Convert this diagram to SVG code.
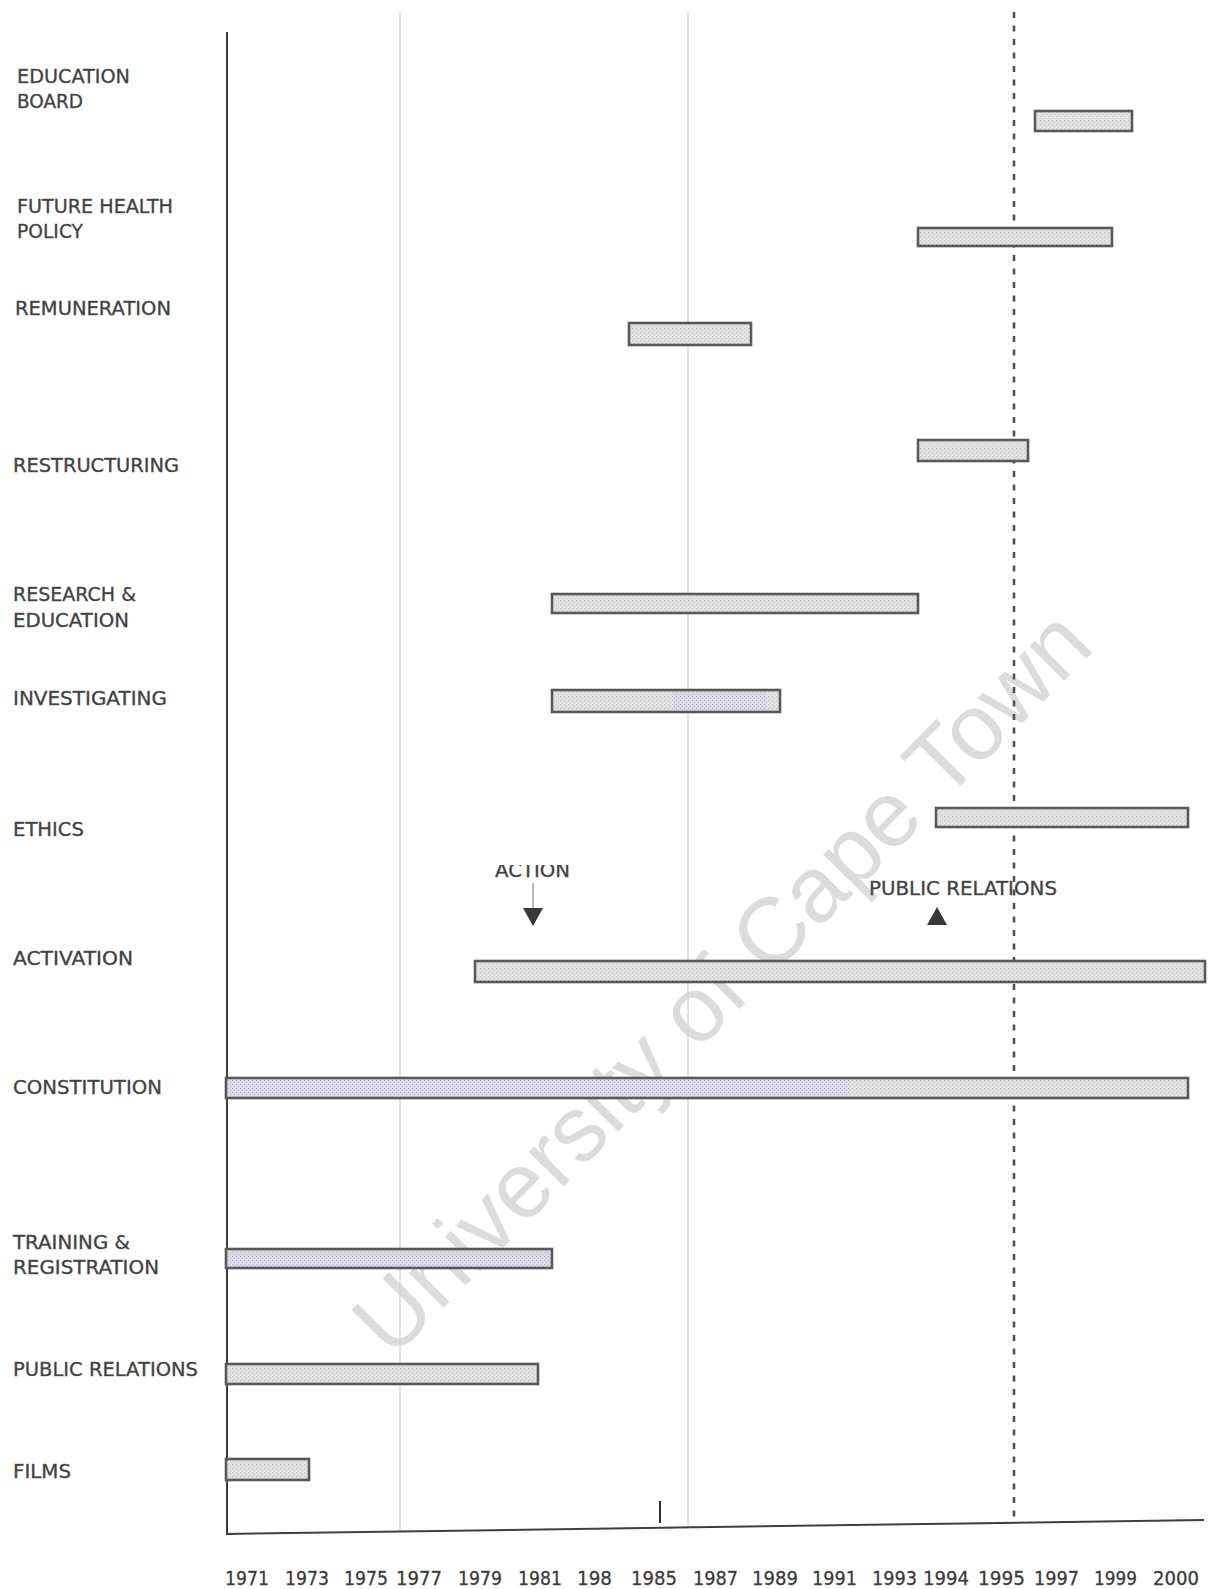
<svg xmlns="http://www.w3.org/2000/svg" width="1208" height="1589" viewBox="0 0 1208 1589">
  <defs>
    <pattern id="grey" width="4" height="4" patternUnits="userSpaceOnUse">
      <rect width="4" height="4" fill="#e2e2e2"/>
      <rect x="0" y="0" width="1" height="1" fill="#c0c0c0"/>
      <rect x="2" y="2" width="1" height="1" fill="#c6c6c6"/>
    </pattern>
    <pattern id="blue" width="4" height="4" patternUnits="userSpaceOnUse">
      <rect width="4" height="4" fill="#dadae8"/>
      <rect x="0" y="0" width="1" height="1" fill="#b0b0c6"/>
      <rect x="2" y="2" width="1" height="1" fill="#b8b8cc"/>
    </pattern>
    <clipPath id="cutTop">
      <rect x="480" y="865" width="110" height="20"/>
    </clipPath>
  </defs>
  <style>
    .lbl { font-family: "DejaVu Sans", "Liberation Sans", sans-serif; font-size: 19px; fill: #404040; stroke: #505050; stroke-width: 0.35; }
    .yr { font-family: "DejaVu Sans", "Liberation Sans", sans-serif; font-size: 19px; fill: #383838; stroke: #484848; stroke-width: 0.3; }
    .bar { fill: url(#grey); stroke: #595959; stroke-width: 2.6; }
    .grid { stroke: #d2d2d2; stroke-width: 1.2; fill: none; }
    .axis { stroke: #3e3e3e; stroke-width: 2; fill: none; }
    .mark { fill: #383838; }
  </style>

  <rect width="1208" height="1589" fill="#ffffff"/>

  <!-- watermark -->
  <text transform="translate(392,1360) rotate(-45.3)" font-family="Liberation Sans, Arial, sans-serif" font-size="93" fill="#dcdcdc">University of Cape Town</text>

  <!-- reference lines and axes -->
  <g id="connectors">
    <line class="grid" x1="400" y1="12" x2="400" y2="1530"/>
    <line class="grid" x1="688" y1="12" x2="688" y2="1528" stroke="#c4c4c4"/>
    <line x1="1014" y1="12" x2="1014" y2="1522" stroke="#505050" stroke-width="2.6" stroke-dasharray="6 7.5"/>
    <line class="axis" x1="227" y1="32" x2="227" y2="1534"/>
    <line class="axis" x1="226" y1="1534" x2="1204" y2="1520"/>
    <line x1="660" y1="1501" x2="660" y2="1523" stroke="#333" stroke-width="2"/>
    <!-- event markers -->
    <line x1="533" y1="883" x2="533" y2="908" stroke="#8a8a8a" stroke-width="1.2"/>
    <polygon class="mark" points="523,908 543,908 533,926"/>
    <polygon class="mark" points="927,925 947,925 937,907"/>
  </g>

  <!-- rows: label + period bar -->
  <g id="node-education-board">
    <text class="lbl" x="17" y="83" textLength="113" lengthAdjust="spacingAndGlyphs">EDUCATION</text>
    <text class="lbl" x="17" y="108" textLength="66" lengthAdjust="spacingAndGlyphs">BOARD</text>
    <rect class="bar" x="1035" y="111" width="97" height="20"/>
  </g>
  <g id="node-future-health">
    <text class="lbl" x="17" y="213" textLength="156" lengthAdjust="spacingAndGlyphs">FUTURE HEALTH</text>
    <text class="lbl" x="17" y="238" textLength="66" lengthAdjust="spacingAndGlyphs">POLICY</text>
    <rect class="bar" x="918" y="228" width="194" height="18"/>
  </g>
  <g id="node-remuneration">
    <text class="lbl" x="15" y="315" textLength="156" lengthAdjust="spacingAndGlyphs">REMUNERATION</text>
    <rect class="bar" x="629" y="323" width="122" height="22"/>
  </g>
  <g id="node-restructuring">
    <text class="lbl" x="13" y="472" textLength="166" lengthAdjust="spacingAndGlyphs">RESTRUCTURING</text>
    <rect class="bar" x="918" y="440" width="110" height="21"/>
  </g>
  <g id="node-research-education">
    <text class="lbl" x="13" y="601" textLength="123" lengthAdjust="spacingAndGlyphs">RESEARCH &amp;</text>
    <text class="lbl" x="13" y="627" textLength="116" lengthAdjust="spacingAndGlyphs">EDUCATION</text>
    <rect class="bar" x="552" y="594" width="366" height="19"/>
  </g>
  <g id="node-investigating">
    <text class="lbl" x="13" y="705" textLength="154" lengthAdjust="spacingAndGlyphs">INVESTIGATING</text>
    <rect class="bar" x="552" y="690" width="228" height="22"/>
    <rect x="673" y="692" width="93" height="18" fill="url(#blue)"/>
  </g>
  <g id="node-ethics">
    <text class="lbl" x="13" y="836" textLength="71" lengthAdjust="spacingAndGlyphs">ETHICS</text>
    <rect class="bar" x="936" y="808" width="252" height="19"/>
  </g>
  <g id="node-activation">
    <text class="lbl" x="13" y="965" textLength="120" lengthAdjust="spacingAndGlyphs">ACTIVATION</text>
    <rect class="bar" x="475" y="961" width="730" height="21"/>
    <text class="lbl" x="495" y="877" textLength="75" lengthAdjust="spacingAndGlyphs" clip-path="url(#cutTop)">ACTION</text>
    <text class="lbl" x="869" y="895" textLength="188" lengthAdjust="spacingAndGlyphs">PUBLIC RELATIONS</text>
  </g>
  <g id="node-constitution">
    <text class="lbl" x="13" y="1094" textLength="149" lengthAdjust="spacingAndGlyphs">CONSTITUTION</text>
    <rect class="bar" x="226" y="1078" width="962" height="20"/>
    <rect x="228" y="1080" width="622" height="16" fill="url(#blue)"/>
  </g>
  <g id="node-training-registration">
    <text class="lbl" x="13" y="1249" textLength="117" lengthAdjust="spacingAndGlyphs">TRAINING &amp;</text>
    <text class="lbl" x="13" y="1274" textLength="146" lengthAdjust="spacingAndGlyphs">REGISTRATION</text>
    <rect class="bar" x="226" y="1249" width="326" height="19" style="fill:url(#blue)"/>
  </g>
  <g id="node-public-relations">
    <text class="lbl" x="13" y="1376" textLength="185" lengthAdjust="spacingAndGlyphs">PUBLIC RELATIONS</text>
    <rect class="bar" x="226" y="1364" width="312" height="20"/>
  </g>
  <g id="node-films">
    <text class="lbl" x="13" y="1478" textLength="58" lengthAdjust="spacingAndGlyphs">FILMS</text>
    <rect class="bar" x="226" y="1459" width="83" height="21"/>
  </g>

  <!-- year scale -->
  <g id="years">
    <text class="yr" x="225" y="1585" textLength="44" lengthAdjust="spacingAndGlyphs">1971</text>
    <text class="yr" x="285" y="1585" textLength="44" lengthAdjust="spacingAndGlyphs">1973</text>
    <text class="yr" x="344" y="1585" textLength="44" lengthAdjust="spacingAndGlyphs">1975</text>
    <text class="yr" x="396" y="1585" textLength="46" lengthAdjust="spacingAndGlyphs">1977</text>
    <text class="yr" x="458" y="1585" textLength="44" lengthAdjust="spacingAndGlyphs">1979</text>
    <text class="yr" x="518" y="1585" textLength="44" lengthAdjust="spacingAndGlyphs">1981</text>
    <text class="yr" x="577" y="1585" textLength="35" lengthAdjust="spacingAndGlyphs">198</text>
    <text class="yr" x="631" y="1585" textLength="46" lengthAdjust="spacingAndGlyphs">1985</text>
    <text class="yr" x="693" y="1585" textLength="45" lengthAdjust="spacingAndGlyphs">1987</text>
    <text class="yr" x="752" y="1585" textLength="46" lengthAdjust="spacingAndGlyphs">1989</text>
    <text class="yr" x="812" y="1585" textLength="45" lengthAdjust="spacingAndGlyphs">1991</text>
    <text class="yr" x="872" y="1585" textLength="45" lengthAdjust="spacingAndGlyphs">1993</text>
    <text class="yr" x="923" y="1585" textLength="46" lengthAdjust="spacingAndGlyphs">1994</text>
    <text class="yr" x="978" y="1585" textLength="47" lengthAdjust="spacingAndGlyphs">1995</text>
    <text class="yr" x="1034" y="1585" textLength="45" lengthAdjust="spacingAndGlyphs">1997</text>
    <text class="yr" x="1094" y="1585" textLength="43" lengthAdjust="spacingAndGlyphs">1999</text>
    <text class="yr" x="1153" y="1585" textLength="46" lengthAdjust="spacingAndGlyphs">2000</text>
  </g>
</svg>
